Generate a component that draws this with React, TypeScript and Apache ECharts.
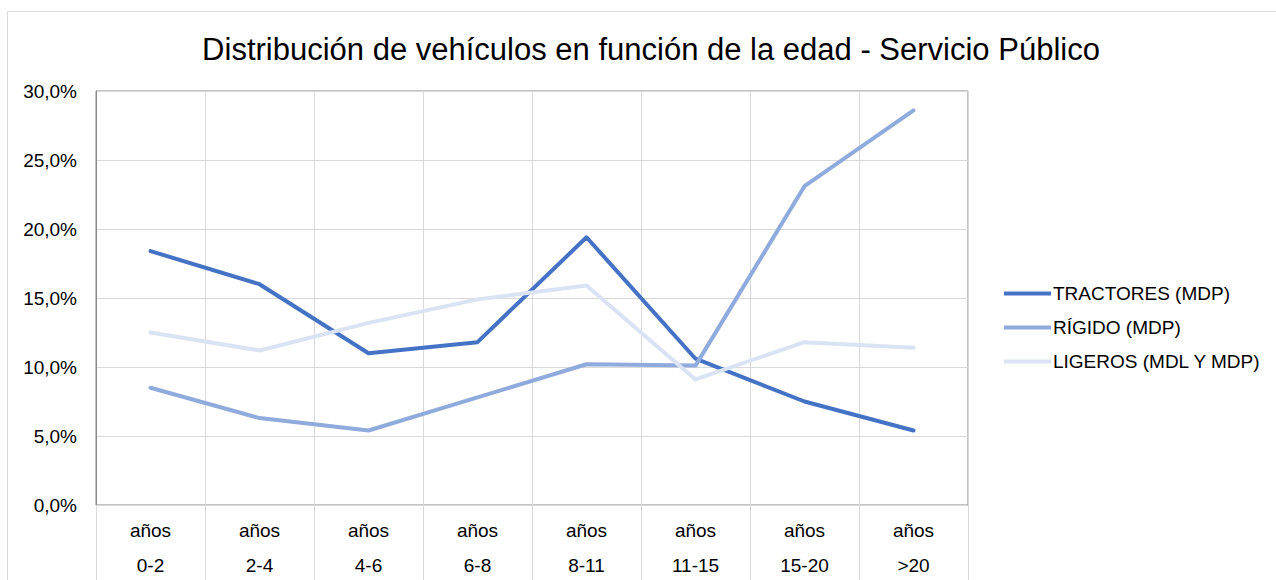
import React, { useEffect, useRef } from "react";
import * as echarts from "echarts";

const categories = ["años\n0-2", "años\n2-4", "años\n4-6", "años\n6-8", "años\n8-11", "años\n11-15", "años\n15-20", "años\n>20"];
const tractores = [18.4, 16.0, 11.0, 11.8, 19.4, 10.6, 7.5, 5.4];
const rigido = [8.5, 6.3, 5.4, 7.8, 10.2, 10.1, 23.1, 28.6];
const ligeros = [12.5, 11.2, 13.2, 14.9, 15.9, 9.1, 11.8, 11.4];
const seriesNames = ["TRACTORES (MDP)", "RÍGIDO (MDP)", "LIGEROS (MDL Y MDP)"];
const colors = ["#4472C4", "#8FAADC", "#DAE3F3"];
const titleText = "Distribución de vehículos en función de la edad - Servicio Público";

export default function App() {
  const ref = useRef<HTMLDivElement>(null);
  useEffect(() => {
    document.body.style.margin = "0";
    const chart = echarts.init(ref.current!, null, { renderer: "svg" });
    const font = "'Liberation Sans', Arial, sans-serif";
    const data = [tractores, rigido, ligeros];
    chart.setOption({
      animation: false,
      backgroundColor: "#ffffff",
      textStyle: { fontFamily: font },
      title: {
        text: titleText,
        left: 646,
        top: 29,
        textAlign: "center",
        textStyle: { fontFamily: font, fontSize: 31, fontWeight: "normal", color: "#000" },
      },
      graphic: [
        {
          type: "rect",
          shape: { x: 7.5, y: 11.5, width: 1300, height: 600 },
          style: { fill: "none", stroke: "#d9d9d9", lineWidth: 1 },
          silent: true,
        },
      ],
      legend: {
        orient: "vertical",
        left: 999,
        top: 278,
        itemWidth: 47,
        itemHeight: 4,
        itemGap: 13,
        icon: "rect",
        data: seriesNames,
        textStyle: { fontFamily: font, fontSize: 19, color: "#000", lineHeight: 21, padding: [0, 0, 0, -3] },
      },
      grid: {
        left: 96,
        top: 91,
        width: 872,
        height: 414,
        show: true,
        borderColor: "#898989",
        borderWidth: 1,
        containLabel: false,
        outerBoundsMode: "none",
      },
      xAxis: {
        type: "category",
        data: categories,
        boundaryGap: true,
        axisLine: { show: true, lineStyle: { color: "#d9d9d9", width: 1 } },
        axisTick: { show: true, length: 76, alignWithLabel: false, lineStyle: { color: "#d9d9d9" } },
        splitLine: { show: true, lineStyle: { color: "#d9d9d9", width: 1 } },
        axisLabel: {
          fontFamily: font,
          fontSize: 19,
          color: "#000",
          lineHeight: 35,
          margin: 8,
          interval: 0,
        },
      },
      yAxis: {
        type: "value",
        min: 0,
        max: 30,
        interval: 5,
        axisLine: { show: true, lineStyle: { color: "#898989" } },
        axisTick: { show: false },
        splitLine: { show: true, lineStyle: { color: "#d9d9d9", width: 1 } },
        axisLabel: {
          fontFamily: font,
          fontSize: 19,
          color: "#000",
          margin: 19,
          formatter: (v: number) => v.toFixed(1).replace(".", ",") + "%",
        },
      },
      series: data.map((d, i) => ({
        name: seriesNames[i],
        type: "line",
        data: d,
        symbol: "none",
        color: colors[i],
        lineStyle: { color: colors[i], width: 4, cap: "round", join: "round" },
        itemStyle: { color: colors[i] },
      })),
    });
    return () => chart.dispose();
  }, []);
  return <div ref={ref} style={{ width: 1276, height: 580 }} />;
}
